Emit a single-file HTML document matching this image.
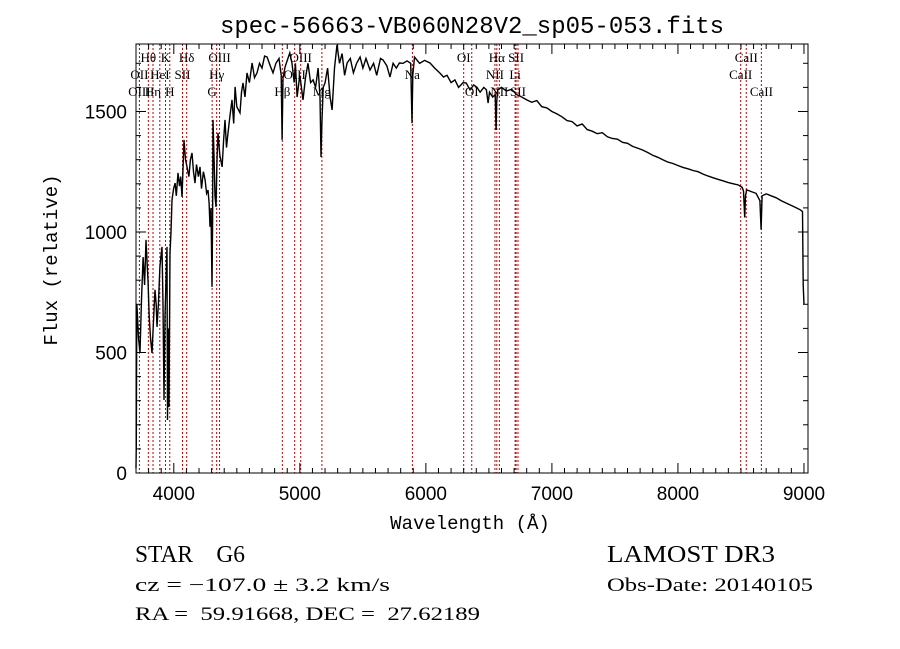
<!DOCTYPE html>
<html><head><meta charset="utf-8"><style>
body{margin:0;background:#fff;width:900px;height:649px;overflow:hidden}
svg{display:block}
text{white-space:pre}
</style></head><body>
<svg id="chart" width="900" height="649" xmlns="http://www.w3.org/2000/svg">
<rect width="900" height="649" fill="#fff"/>
<text x="472" y="33" font-family="Liberation Mono, monospace" font-size="24" text-anchor="middle">spec-56663-VB060N28V2_sp05-053.fits</text>
<g id="lines"></g>
<g id="labels"></g>
<g id="spec"></g>
<g id="axes"></g>
<text x="470" y="529" font-family="Liberation Mono, monospace" font-size="19" text-anchor="middle">Wavelength (Å)</text>
<text transform="translate(57,260) rotate(-90)" font-family="Liberation Mono, monospace" font-size="19" text-anchor="middle">Flux (relative)</text>
<text x="135" y="562" font-family="Liberation Serif, serif" font-size="24" textLength="110" lengthAdjust="spacingAndGlyphs">STAR    G6</text>
<text x="135" y="591" font-family="Liberation Serif, serif" font-size="19" textLength="255" lengthAdjust="spacingAndGlyphs">cz = −107.0 ± 3.2 km/s</text>
<text x="135" y="620" font-family="Liberation Serif, serif" font-size="19" textLength="345" lengthAdjust="spacingAndGlyphs">RA =  59.91668, DEC =  27.62189</text>
<text x="607" y="562" font-family="Liberation Serif, serif" font-size="24" textLength="168" lengthAdjust="spacingAndGlyphs">LAMOST DR3</text>
<text x="607" y="591" font-family="Liberation Serif, serif" font-size="19" textLength="206" lengthAdjust="spacingAndGlyphs">Obs-Date: 20140105</text>
</svg>
<script>
const wavelengths=[
3700,3702,3706,3708,3720,3732,3744,3756,3768,3779,
3787,3795,3805,3815,3827,3840,3851,3860,3867,3878,
3890,3898,3906,3914,3922,3930,3938,3946,3950,3956,
3962,3970,3978,3986,3998,4010,4020,4033,4045,4055,
4065,4073,4081,4093,4105,4120,4132,4144,4156,4168,
4180,4195,4208,4220,4235,4248,4260,4271,4280,4287,
4295,4303,4308,4311,4320,4327,4335,4343,4351,4365,
4383,4395,4406,4418,4430,4445,4462,4475,4486,4500,
4525,4537,4549,4565,4581,4600,4621,4640,4660,4680,
4700,4720,4740,4765,4787,4810,4835,4852,4859,4866,
4883,4905,4920,4938,4955,4965,4978,5000,5010,5025,
5045,5065,5085,5105,5125,5145,5160,5168,5175,5185,
5200,5220,5240,5256,5275,5295,5315,5335,5355,5375,
5400,5425,5450,5478,5500,5525,5557,5585,5610,5640,
5660,5690,5715,5740,5765,5790,5819,5850,5880,5890,
5896,5910,5950,5990,6033,6070,6110,6140,6168,6200,
6230,6260,6295,6320,6350,6380,6406,6430,6460,6480,
6494,6505,6530,6550,6557,6562,6570,6600,6640,6680,
6720,6760,6800,6840,6880,6920,6960,7000,7040,7080,
7120,7160,7200,7240,7280,7320,7360,7400,7440,7480,
7520,7560,7600,7640,7680,7720,7760,7800,7840,7880,
7920,7960,8000,8040,8080,8120,8160,8200,8240,8280,
8320,8360,8400,8440,8480,8510,8520,8530,8536,8545,
8580,8620,8650,8660,8668,8700,8740,8780,8820,8860,
8900,8940,8970,8988,8994,9000];
const fluxes=[
20,120,700,690,560,500,720,896,780,967,
880,800,650,560,498,640,760,700,606,700,
855,900,938,700,303,650,800,938,220,600,
274,912,1000,1133,1180,1203,1150,1245,1190,1230,
1146,1260,1382,1300,1270,1230,1300,1328,1250,1203,
1280,1230,1270,1180,1250,1216,1160,1174,1120,1021,
1100,772,1050,1465,1300,1150,1104,1300,1411,1320,
1270,1380,1465,1350,1411,1480,1548,1450,1602,1520,
1494,1580,1618,1560,1660,1620,1701,1640,1660,1700,
1680,1730,1726,1690,1660,1700,1720,1650,1382,1640,
1685,1720,1743,1700,1620,1700,1560,1650,1610,1548,
1640,1700,1620,1631,1600,1680,1560,1311,1450,1600,
1618,1680,1560,1506,1680,1776,1700,1740,1650,1701,
1720,1660,1700,1726,1680,1720,1672,1700,1650,1720,
1714,1690,1643,1700,1680,1701,1700,1710,1700,1452,
1650,1726,1700,1712,1701,1680,1660,1643,1650,1620,
1631,1600,1620,1618,1590,1610,1600,1580,1600,1590,
1535,1580,1560,1570,1423,1540,1590,1600,1585,1592,
1570,1560,1548,1538,1545,1520,1515,1500,1490,1478,
1462,1458,1440,1448,1425,1418,1408,1412,1395,1388,
1385,1372,1368,1355,1348,1340,1330,1318,1310,1300,
1290,1284,1276,1268,1262,1255,1250,1240,1232,1225,
1218,1212,1205,1200,1195,1185,1170,1060,1150,1175,
1168,1160,1130,1010,1150,1158,1150,1142,1130,1120,
1110,1100,1092,1085,780,700];
const lineWaves=[3727,3798,3835,3889,3934,3968,4069,4102,4304,4340,4363,4861,4959,5007,5175,5893,6300,6364,6548,6563,6583,6708,6716,6731,8498,8542,8662];
const labelNames=["Hθ","K","Hδ","OIII","OIII","OI","Hα","SII","CaII","OII","HeI","SII","Hγ","OIII","Na","NII","Li","CaII","OIII","Hη","H","G","Hβ","Mg","OI","NII","SII","CaII"];
const labelWaves=[3798,3934,4102,4363,5007,6300,6563,6716,8542,3727,3889,4069,4340,4959,5893,6548,6708,8498,3727,3835,3968,4304,4861,5175,6364,6583,6731,8662];
const labelRows=[0,0,0,0,0,0,0,0,0,1,1,1,1,1,1,1,1,1,2,2,2,2,2,2,2,2,2,2];
const xTicks=[4000,5000,6000,7000,8000,9000];
const yTicks=[0,500,1000,1500];

const X0=136,X1=808,Y0=473,Y1=44,WMIN=3700,WMAX=9032,FMIN=0,FMAX=1780;
const xs=w=>X0+(w-WMIN)/(WMAX-WMIN)*(X1-X0);
const ys=f=>Y0-(f-FMIN)/(FMAX-FMIN)*(Y0-Y1);
const NS="http://www.w3.org/2000/svg";
const mk=(t,p,a)=>{const e=document.createElementNS(NS,t);for(const k in a)e.setAttribute(k,a[k]);p.appendChild(e);return e;};

const gl=document.getElementById('lines');
lineWaves.forEach(w=>{const l=mk('line',gl,{x1:xs(w),x2:xs(w),y1:Y1,y2:Y0,stroke:'#c00000','stroke-width':1,'stroke-dasharray':'2,2'});

});

const glb=document.getElementById('labels');
const rowY=[62,79,96];
labelNames.forEach((n,i)=>{const t=mk('text',glb,{x:xs(labelWaves[i]),y:rowY[labelRows[i]],'font-family':'Liberation Serif, serif','font-size':13,'text-anchor':'middle'});
t.textContent=n;

});

const gs=document.getElementById('spec');
const n=Math.min(wavelengths.length,fluxes.length);
const pts=[];for(let i=0;i<n;i++)pts.push(xs(wavelengths[i]).toFixed(1)+','+ys(fluxes[i]).toFixed(1));
const pl=mk('polyline',gs,{points:pts.join(' '),fill:'none',stroke:'#000','stroke-width':1.4});



const ga=document.getElementById('axes');
const fr=mk('rect',ga,{x:X0,y:Y1,width:X1-X0,height:Y0-Y1,fill:'none',stroke:'#000','stroke-width':1});


for(let w=3700;w<=9000;w+=100){const x=xs(w),L=(w%1000===0)?10:5;
mk('line',ga,{x1:x,x2:x,y1:Y0,y2:Y0-L,stroke:'#000'});mk('line',ga,{x1:x,x2:x,y1:Y1,y2:Y1+L,stroke:'#000'});}
for(let f=0;f<=1700;f+=100){const y=ys(f),L=(f%500===0)?10:5;
mk('line',ga,{x1:X0,x2:X0+L,y1:y,y2:y,stroke:'#000'});mk('line',ga,{x1:X1,x2:X1-L,y1:y,y2:y,stroke:'#000'});}
xTicks.forEach(v=>{const t=mk('text',ga,{x:xs(v),y:500,'font-family':'Liberation Sans, sans-serif','font-size':19,'text-anchor':'middle'});
t.textContent=v;

});
yTicks.forEach(v=>{const t=mk('text',ga,{x:127,y:ys(v)+7,'font-family':'Liberation Sans, sans-serif','font-size':19,'text-anchor':'end'});
t.textContent=v;

});
</script>
</body></html>
